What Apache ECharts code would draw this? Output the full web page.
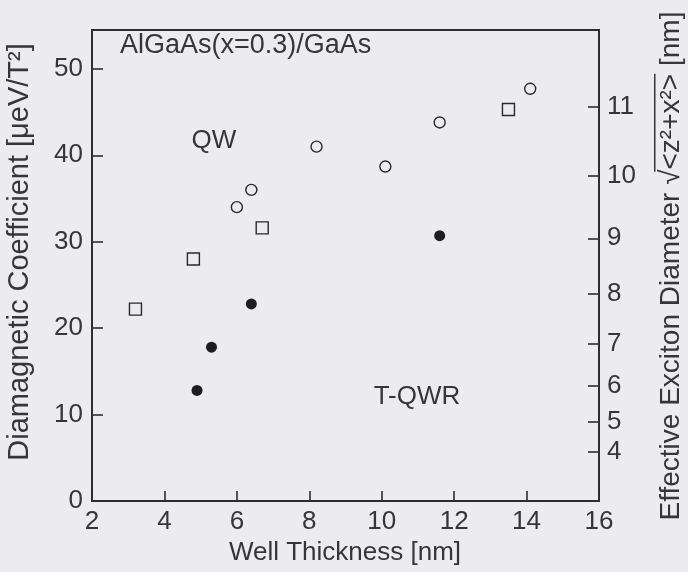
<!DOCTYPE html>
<html>
<head>
<meta charset="utf-8">
<script src="https://cdn.jsdelivr.net/npm/echarts@6/dist/echarts.min.js"></script>
<style>
  html, body { margin: 0; padding: 0; background: #ecebef; }
  #chart { width: 688px; height: 572px; }
</style>
</head>
<body>
<div id="chart"></div>
<script>
// Quantum well (QW), open circles
const qwCircleThickness = [6.0, 6.4, 8.2, 10.1, 11.6, 14.1];
const qwCircleCoeff     = [34.0, 36.0, 41.0, 38.7, 43.8, 47.7];
// Quantum well (QW), open squares
const qwSquareThickness = [3.2, 4.8, 6.7, 13.5];
const qwSquareCoeff     = [22.2, 28.0, 31.6, 45.3];
// T-shaped quantum wire (T-QWR), filled circles
const tqwrThickness = [4.9, 5.3, 6.4, 11.6];
const tqwrCoeff     = [12.8, 17.8, 22.8, 30.7];

// Axis ticks
const thicknessTicks = [2, 4, 6, 8, 10, 12, 14, 16];
const coeffTicks = [0, 10, 20, 30, 40, 50];
const diameterTicks = [4, 5, 6, 7, 8, 9, 10, 11];

// The diamagnetic coefficient scales with the squared exciton extent
const diameterToCoeff = d => 0.38 * (d * d - 1);
const coeffToDiameter = c => Math.sqrt(c / 0.38 + 1);

const FONT = '"Liberation Sans", Arial, Helvetica, sans-serif';
const FS = 26;
const INK = '#363636';
const BG = '#ecebef';
const TICK = '#2e2e2e';

const zip = (xs, ys) => xs.map((x, i) => [x, ys[i]]);

const chart = echarts.init(document.getElementById('chart'), null, { renderer: 'canvas' });

// measure text for the radical overline in the right-hand axis title
const RFS = 28;
const ctx = document.createElement('canvas').getContext('2d');
ctx.font = RFS + 'px ' + FONT;
const partA = 'Effective Exciton Diameter ';
const partRad = '\u221A';
const partB = '<z\u00B2+x\u00B2>';
const partC = ' [nm]';
const wA = ctx.measureText(partA).width;
const wR = ctx.measureText(partRad).width;
const wB = ctx.measureText(partB).width;
const wC = ctx.measureText(partC).width;
const wAll = wA + wR + wB + wC;
const start = -wAll / 2;

const axisLineStyle = { color: '#2e2e2e', width: 2 };
// ticks point into the plot area
const tickStyle = { color: TICK, width: 1.6 };

chart.setOption({
  backgroundColor: BG,
  animation: false,
  grid: {
    left: 92, right: 89, top: 30, bottom: 71,
    show: true, borderColor: '#2e2e2e', borderWidth: 2, backgroundColor: 'transparent'
  },
  xAxis: {
    type: 'value', min: 2, max: 16, interval: 2,
    axisLine: { lineStyle: axisLineStyle },
    axisTick: { show: true, inside: true, length: 10, lineStyle: tickStyle },
    axisLabel: {
      margin: 8, color: INK, fontSize: FS, fontFamily: FONT,
      customValues: thicknessTicks
    },
    splitLine: { show: false }
  },
  yAxis: [
    {
      type: 'value', min: 0, max: 54.5, position: 'left',
      axisLine: { show: true, lineStyle: axisLineStyle },
      axisTick: { show: true, inside: true, length: 11, lineStyle: tickStyle, customValues: coeffTicks },
      axisLabel: { margin: 9, color: INK, fontSize: FS, fontFamily: FONT, customValues: coeffTicks },
      splitLine: { show: false }
    },
    {
      type: 'value', min: 0, max: 54.5, position: 'right',
      axisLine: { show: true, lineStyle: axisLineStyle },
      axisTick: { show: true, inside: true, length: 11, lineStyle: tickStyle,
                  customValues: diameterTicks.map(diameterToCoeff) },
      axisLabel: {
        margin: 8, color: INK, fontSize: FS, fontFamily: FONT,
        customValues: diameterTicks.map(diameterToCoeff),
        formatter: v => String(Math.round(coeffToDiameter(v)))
      },
      splitLine: { show: false }
    }
  ],
  series: [
    {
      name: 'QW', type: 'scatter', symbol: 'circle', symbolSize: 11,
      data: zip(qwCircleThickness, qwCircleCoeff),
      itemStyle: { color: BG, borderColor: '#2a2a2a', borderWidth: 1.4, opacity: 1 }
    },
    {
      name: 'QW (square)', type: 'scatter', symbol: 'rect', symbolSize: 12,
      data: zip(qwSquareThickness, qwSquareCoeff),
      itemStyle: { color: BG, borderColor: '#2a2a2a', borderWidth: 1.4, opacity: 1 }
    },
    {
      name: 'T-QWR', type: 'scatter', symbol: 'circle', symbolSize: 11,
      data: zip(tqwrThickness, tqwrCoeff),
      itemStyle: { color: '#1e1e1e', opacity: 1 }
    }
  ],
  graphic: [
    {
      type: 'text', x: 120, y: 46,
      style: { text: 'AlGaAs(x=0.3)/GaAs', font: '27px ' + FONT, fill: INK,
               verticalAlign: 'middle', textVerticalAlign: 'middle' }
    },
    {
      type: 'text', x: 214, y: 141,
      style: { text: 'QW', font: FS + 'px ' + FONT, fill: INK,
               align: 'center', textAlign: 'center', verticalAlign: 'middle', textVerticalAlign: 'middle' }
    },
    {
      type: 'text', x: 417, y: 397,
      style: { text: 'T-QWR', font: FS + 'px ' + FONT, fill: INK,
               align: 'center', textAlign: 'center', verticalAlign: 'middle', textVerticalAlign: 'middle' }
    },
    {
      type: 'text', x: 345, y: 553,
      style: { text: 'Well Thickness [nm]', font: FS + 'px ' + FONT, fill: INK,
               align: 'center', textAlign: 'center', verticalAlign: 'middle', textVerticalAlign: 'middle' }
    },
    {
      type: 'group', x: 20, y: 252, rotation: Math.PI / 2,
      children: [{
        type: 'text', x: 0, y: 0,
        style: { text: 'Diamagnetic Coefficient [\u03BCeV/T\u00B2]', font: '29px ' + FONT, fill: INK,
                 align: 'center', textAlign: 'center', verticalAlign: 'middle', textVerticalAlign: 'middle' }
      }]
    },
    {
      type: 'group', x: 671, y: 266, rotation: Math.PI / 2,
      children: [
        {
          type: 'text', x: start, y: 0,
          style: { text: partA + partRad + partB + partC, font: RFS + 'px ' + FONT, fill: INK,
                   align: 'left', textAlign: 'left', verticalAlign: 'middle', textVerticalAlign: 'middle' }
        },
        {
          type: 'line',
          shape: { x1: start + wA + wR * 0.85, y1: -RFS * 0.58, x2: start + wA + wR + wB, y2: -RFS * 0.58 },
          style: { stroke: INK, lineWidth: 1.5 }
        }
      ]
    }
  ]
});
</script>
</body>
</html>
